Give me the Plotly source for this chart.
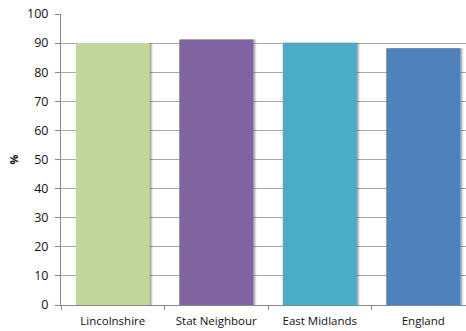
import plotly.graph_objects as go

# Percentage by area
areas = ["Lincolnshire", "Stat Neighbour", "East Midlands", "England"]
values = [90.0, 91.2, 90.1, 88.2]
colors = ["#C3D69B", "#8064A2", "#4BACC6", "#4F81BD"]
y_ticks = list(range(0, 101, 10))

fig = go.Figure()

# soft drop shadow behind each bar
for shift, alpha in [(0.03, 0.12), (0.022, 0.18), (0.012, 0.25)]:
    fig.add_trace(go.Bar(
        x=areas, y=values, width=0.715, offset=-0.3575 + shift,
        marker=dict(color=f"rgba(80,80,80,{alpha})", line=dict(width=0)),
        hoverinfo="skip", showlegend=False,
    ))
fig.add_trace(go.Bar(
    x=areas, y=values, width=0.715, offset=-0.3575,
    marker=dict(color=colors, line=dict(width=0)),
    showlegend=False,
))

fig.update_layout(
    width=466, height=331,
    margin=dict(l=61, r=0, t=14, b=26),
    paper_bgcolor="white", plot_bgcolor="white",
    barmode="overlay",
    font=dict(family="Open Sans", size=12, color="#111111"),
    xaxis=dict(
        range=[-0.5, 3.413],
        tickson="boundaries", ticks="outside", ticklen=4, tickcolor="#888888",
        showline=True, linecolor="#888888", linewidth=1,
        showgrid=False, tickfont=dict(size=11.5), ticklabelstandoff=5,
    ),
    yaxis=dict(
        range=[0, 100], tickvals=y_ticks,
        ticks="outside", ticklen=5, tickcolor="#888888",
        showline=True, linecolor="#888888", linewidth=1,
        showgrid=True, gridcolor="#a8a8a8", gridwidth=1,
        zeroline=False, tickfont=dict(size=12.5), ticklabelstandoff=4,
        title=dict(text="<b>%</b>", standoff=6, font=dict(size=11)),
    ),
)

fig.write_html("out.html")
